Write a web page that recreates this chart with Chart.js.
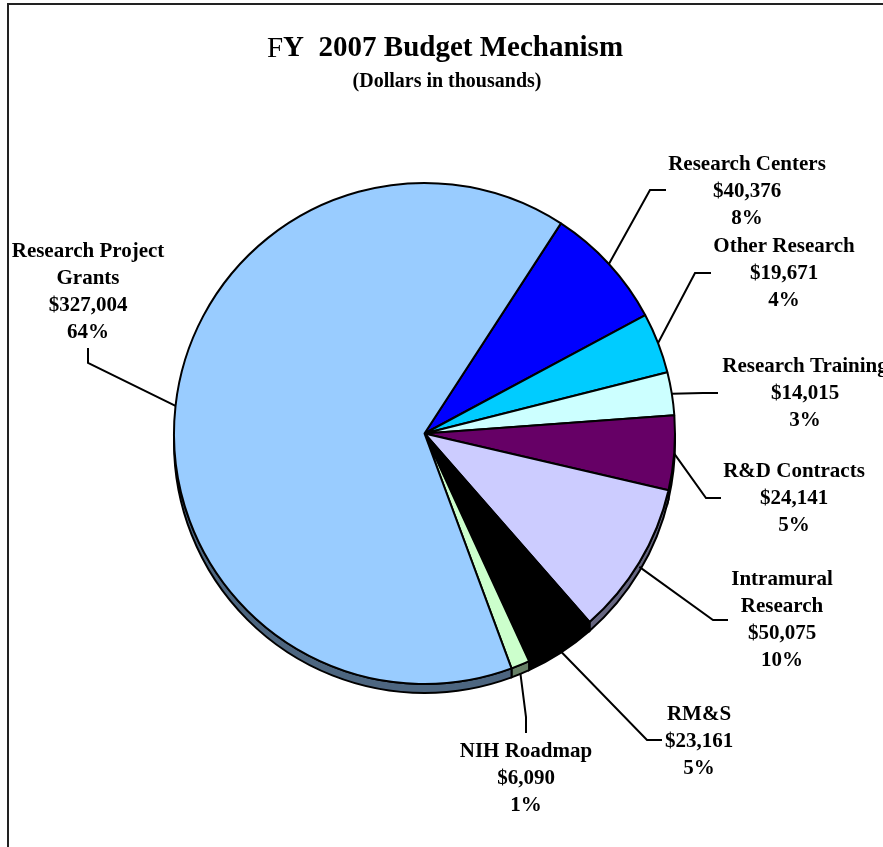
<!DOCTYPE html>
<html>
<head>
<meta charset="utf-8">
<script src="https://cdn.jsdelivr.net/npm/chart.js@4.4.0/dist/chart.umd.min.js"></script>
<style>
  html, body { margin: 0; padding: 0; background: #fff; }
  canvas { display: block; }
</style>
</head>
<body>
<canvas id="budget-chart" width="883" height="847"></canvas>
<script>
// Данные (в тысячах долларов), по часовой стрелке начиная с Research Centers
const categories = ['Research Centers', 'Other Research', 'Research Training', 'R&D Contracts',
    'Intramural\nResearch', 'RM&S', 'NIH Roadmap', 'Research Project\nGrants'];
const amounts = [40376, 19671, 14015, 24141, 50075, 23161, 6090, 327004];
const percentLabels = ['8%', '4%', '3%', '5%', '10%', '5%', '1%', '64%'];
const sliceColors = ['#0000FF', '#00CCFF', '#CCFFFF', '#660066', '#CCCCFF', '#000000', '#CCFFCC', '#99CCFF'];

// Раскладка подписей (центр текста и точки выноски)
const labelAnchors = [[747, 165], [784, 247], [805, 367], [794, 472], [782, 580], [699, 715], [526, 752], [88, 252]];
const leaderPoints = [
    [[650, 190], [666, 190]],
    [[695, 273], [711, 273]],
    [[703, 393], [718, 393]],
    [[706, 498], [721, 498]],
    [[713, 620], [728, 620]],
    [[647, 740], [662, 740]],
    [[526, 717], [526, 733]],
    [[88, 363], [88, 348]]
];

const serif = '"Liberation Serif", "Times New Roman", serif';
const depth = 9;
const lineHeight = 26.7;

function darken(hex, k) {
    const n = parseInt(hex.slice(1), 16);
    const r = Math.round(((n >> 16) & 255) * k);
    const g = Math.round(((n >> 8) & 255) * k);
    const b = Math.round((n & 255) * k);
    return `rgb(${r},${g},${b})`;
}

// Боковая грань "3D" пирога
const depthPlugin = {
    id: 'depth',
    beforeDatasetsDraw(chart) {
        const ctx = chart.ctx;
        const meta = chart.getDatasetMeta(0);
        meta.data.forEach((arc, i) => {
            const p = arc.getProps(['x', 'y', 'startAngle', 'endAngle', 'outerRadius'], true);
            const ranges = [[0, Math.PI], [2 * Math.PI, 3 * Math.PI], [-2 * Math.PI, -Math.PI]];
            ranges.forEach(([lo, hi]) => {
                const a = Math.max(p.startAngle, lo);
                const b = Math.min(p.endAngle, hi);
                if (b <= a) return;
                const r = p.outerRadius;
                ctx.save();
                ctx.beginPath();
                ctx.moveTo(p.x + r * Math.cos(a), p.y + r * Math.sin(a));
                ctx.arc(p.x, p.y, r, a, b);
                ctx.lineTo(p.x + r * Math.cos(b), p.y + depth + r * Math.sin(b));
                ctx.arc(p.x, p.y + depth, r, b, a, true);
                ctx.closePath();
                ctx.fillStyle = darken(sliceColors[i], 0.5);
                ctx.fill();
                ctx.lineWidth = 2;
                ctx.strokeStyle = '#000';
                ctx.stroke();
                ctx.restore();
            });
        });
    }
};

// Подписи с выносками
const labelPlugin = {
    id: 'sliceLabels',
    afterDatasetsDraw(chart) {
        const ctx = chart.ctx;
        const meta = chart.getDatasetMeta(0);
        meta.data.forEach((arc, i) => {
            const p = arc.getProps(['x', 'y', 'startAngle', 'endAngle', 'outerRadius'], true);
            const mid = (p.startAngle + p.endAngle) / 2;
            const sx = p.x + p.outerRadius * Math.cos(mid);
            const sy = p.y + p.outerRadius * Math.sin(mid) + depth * Math.max(0, Math.sin(mid));
            ctx.save();
            ctx.beginPath();
            ctx.moveTo(sx, sy);
            leaderPoints[i].forEach(pt => ctx.lineTo(pt[0], pt[1]));
            ctx.lineWidth = 2;
            ctx.strokeStyle = '#000';
            ctx.stroke();

            const lines = categories[i].split('\n');
            lines.push('$' + amounts[i].toLocaleString('en-US'));
            lines.push(percentLabels[i]);
            ctx.font = `bold 21px ${serif}`;
            ctx.fillStyle = '#000';
            ctx.textAlign = 'center';
            ctx.textBaseline = 'middle';
            const [cx, cy] = labelAnchors[i];
            lines.forEach((t, k) => ctx.fillText(t, cx, cy + k * lineHeight));
            ctx.restore();
        });
    }
};

// Заголовок и рамка
const framePlugin = {
    id: 'frame',
    beforeDraw(chart) {
        const ctx = chart.ctx;
        ctx.save();
        ctx.fillStyle = '#fff';
        ctx.fillRect(0, 0, chart.width, chart.height);
        ctx.strokeStyle = '#222';
        ctx.lineWidth = 2;
        ctx.beginPath();
        ctx.moveTo(8, chart.height + 5);
        ctx.lineTo(8, 4);
        ctx.lineTo(chart.width + 5, 4);
        ctx.stroke();
        ctx.restore();
    },
    afterDraw(chart) {
        const ctx = chart.ctx;
        ctx.save();
        ctx.fillStyle = '#000';
        ctx.textBaseline = 'middle';
        ctx.textAlign = 'left';
        const head = 'F';
        const rest = 'Y  2007 Budget Mechanism';
        ctx.font = `29px ${serif}`;
        const w1 = ctx.measureText(head).width;
        ctx.font = `bold 29px ${serif}`;
        const w2 = ctx.measureText(rest).width;
        const x0 = 445 - (w1 + w2) / 2;
        ctx.font = `29px ${serif}`;
        ctx.fillText(head, x0, 49);
        ctx.font = `bold 29px ${serif}`;
        ctx.fillText(rest, x0 + w1, 49);
        ctx.font = `bold 20px ${serif}`;
        ctx.textAlign = 'center';
        ctx.fillText('(Dollars in thousands)', 447, 82);
        ctx.restore();
    }
};

new Chart(document.getElementById('budget-chart'), {
    type: 'pie',
    data: {
        labels: categories,
        datasets: [{
            data: amounts,
            backgroundColor: sliceColors,
            borderColor: '#000',
            borderWidth: 2
        }]
    },
    options: {
        responsive: false,
        animation: false,
        rotation: 33,
        layout: { padding: { left: 172, right: 206, top: 182, bottom: 162 } },
        plugins: {
            legend: { display: false },
            tooltip: { enabled: false },
            title: { display: false }
        }
    },
    plugins: [framePlugin, depthPlugin, labelPlugin]
});
</script>
</body>
</html>
